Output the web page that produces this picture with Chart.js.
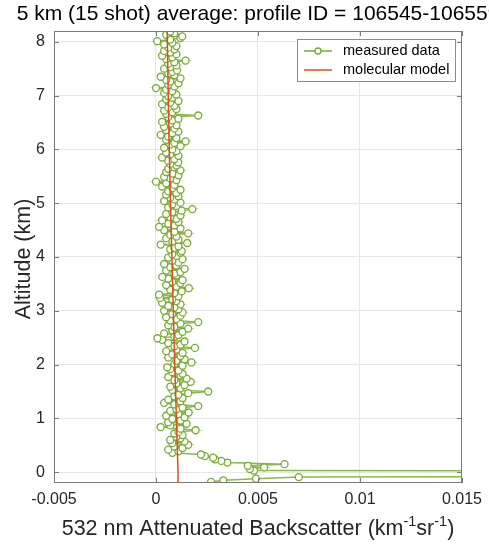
<!DOCTYPE html>
<html lang="en">
<head>
    <meta charset="UTF-8">
    <title>Attenuated Backscatter Profile</title>
    <script src="https://cdn.jsdelivr.net/npm/chart.js"></script>
    <style>
        body { margin: 0; background: #fff; }
    </style>
</head>
<body>
<canvas id="profileChart" width="489" height="545"></canvas>

<script>
    // altitude bins (km), 30 m steps, bottom to top
    const altitudeKm = [
        -0.18, -0.15, -0.12, -0.09, -0.06, -0.03, 0.00, 0.03, 0.06, 0.09,
        0.12, 0.15, 0.18, 0.21, 0.24, 0.27, 0.30, 0.33, 0.36,
        0.39, 0.42, 0.45, 0.48, 0.51, 0.54, 0.57, 0.60, 0.63, 0.66,
        0.69, 0.72, 0.75, 0.78, 0.81, 0.84, 0.87, 0.90, 0.93, 0.96,
        0.99, 1.02, 1.05, 1.08, 1.11, 1.14, 1.17, 1.20, 1.23, 1.26,
        1.29, 1.32, 1.35, 1.38, 1.41, 1.44, 1.47, 1.50, 1.53, 1.56,
        1.59, 1.62, 1.65, 1.68, 1.71, 1.74, 1.77, 1.80, 1.83, 1.86,
        1.89, 1.92, 1.95, 1.98, 2.01, 2.04, 2.07, 2.10, 2.13, 2.16,
        2.19, 2.22, 2.25, 2.28, 2.31, 2.34, 2.37, 2.40, 2.43, 2.46,
        2.49, 2.52, 2.55, 2.58, 2.61, 2.64, 2.67, 2.70, 2.73, 2.76,
        2.79, 2.82, 2.85, 2.88, 2.91, 2.94, 2.97, 3.00, 3.03, 3.06,
        3.09, 3.12, 3.15, 3.18, 3.21, 3.24, 3.27, 3.30, 3.33, 3.36,
        3.39, 3.42, 3.45, 3.48, 3.51, 3.54, 3.57, 3.60, 3.63, 3.66,
        3.69, 3.72, 3.75, 3.78, 3.81, 3.84, 3.87, 3.90, 3.93, 3.96,
        3.99, 4.02, 4.05, 4.08, 4.11, 4.14, 4.17, 4.20, 4.23, 4.26,
        4.29, 4.32, 4.35, 4.38, 4.41, 4.44, 4.47, 4.50, 4.53, 4.56,
        4.59, 4.62, 4.65, 4.68, 4.71, 4.74, 4.77, 4.80, 4.83, 4.86,
        4.89, 4.92, 4.95, 4.98, 5.01, 5.04, 5.07, 5.10, 5.13, 5.16,
        5.19, 5.22, 5.25, 5.28, 5.31, 5.34, 5.37, 5.40, 5.43, 5.46,
        5.49, 5.52, 5.55, 5.58, 5.61, 5.64, 5.67, 5.70, 5.73, 5.76,
        5.79, 5.82, 5.85, 5.88, 5.91, 5.94, 5.97, 6.00, 6.03, 6.06,
        6.09, 6.12, 6.15, 6.18, 6.21, 6.24, 6.27, 6.30, 6.33, 6.36,
        6.39, 6.42, 6.45, 6.48, 6.51, 6.54, 6.57, 6.60, 6.63, 6.66,
        6.69, 6.72, 6.75, 6.78, 6.81, 6.84, 6.87, 6.90, 6.93, 6.96,
        6.99, 7.02, 7.05, 7.08, 7.11, 7.14, 7.17, 7.20, 7.23, 7.26,
        7.29, 7.32, 7.35, 7.38, 7.41, 7.44, 7.47, 7.50, 7.53, 7.56,
        7.59, 7.62, 7.65, 7.68, 7.71, 7.74, 7.77, 7.80, 7.83, 7.86,
        7.89, 7.92, 7.95, 7.98, 8.01, 8.04, 8.07, 8.10, 8.13, 8.16,
        8.19
    ];

    // measured attenuated backscatter, in 1e-3 km^-1 sr^-1 (same order as altitudeKm)
    const measuredE3 = [
        2.7, 3.3, 4.9, 7.0, 60, 95, 80, 4.8, 4.6, 5.3,
        4.5, 6.3, 3.5, 3.2, 2.9, 2.8, 2.4, 2.2, 0.8,
        1.1, 0.6, 1.3, 0.9, 1.58, 0.8, 1.4, 0.7, 1.2, 1.0,
        1.3, 0.9, 1.1, 1.94, 1.2, 0.23, 0.7, 1.5, 0.6, 1.2,
        0.8, 1.4, 0.5, 1.1, 1.6, 0.7, 1.0, 1.3, 2.07, 0.9,
        0.4, 1.2, 0.6, 1.3, 0.9, 1.1, 1.58, 2.56, 0.8, 1.2,
        0.7, 1.4, 1.0, 1.7, 0.9, 1.5, 0.6, 1.2, 1.3, 0.8,
        1.1, 0.7, 0.55, 1.3, 0.9, 1.74, 1.0, 1.4, 0.6, 1.2,
        0.8, 1.3, 0.5, 1.0, 1.91, 0.9, 1.2, 0.6, 1.4, 0.3,
        0.07, 0.9, 1.1, 0.4, 1.3, 0.8, 1.58, 0.9, 0.6, 1.2,
        2.07, 0.7, 1.0, 0.5, 1.2, 0.8, 1.3, 0.4, 1.1, 0.9,
        0.6, 1.2, 0.3, 1.0, 0.8, 0.2, 1.1, 0.15, 0.9, 1.26,
        0.7, 1.61, 1.0, 0.5, 1.2, 0.8, 1.3, 0.6, 0.31, 1.0,
        0.9, 1.2, 0.5, 1.4, 0.7, 1.0, 0.4, 1.1, 0.8, 1.3,
        0.6, 1.0, 0.8, 1.2, 1.26, 0.7, 0.9, 1.1, 0.23, 1.53,
        0.8, 1.1, 0.5, 1.0, 0.7, 1.58, 0.9, 0.4, 1.2, 0.15,
        0.9, 0.6, 1.1, 0.3, 1.0, 0.7, 1.2, 0.5, 0.8, 1.26,
        1.78, 0.6, 1.0, 0.8, 1.2, 0.4, 0.9, 0.7, 1.1, 0.5,
        1.0, 0.6, 1.2, 0.8, 0.3, 0.9, 0.5, 0.0, 1.0, 0.7,
        0.4, 1.1, 0.8, 0.5, 1.2, 0.6, 0.9, 1.0, 0.7, 1.09,
        0.6, 0.9, 0.3, 1.1, 0.7, 0.5, 1.0, 0.8, 0.4, 1.2,
        0.7, 0.9, 1.45, 0.5, 1.0, 0.6, 0.23, 0.8, 1.1, 0.5,
        0.9, 0.4, 1.0, 0.7, 0.3, 0.8, 1.1, 0.6, 2.07, 0.5,
        0.8, 0.4, 1.0, 0.6, 0.9, 0.3, 0.7, 1.1, 0.5, 0.8,
        0.6, 1.0, 0.4, 0.8, 0.5, 0.0, 0.9, 0.6, 1.1, 0.7,
        0.5, 1.2, 0.23, 0.9, 0.6, 0.8, 1.03, 0.4, 0.7, 1.0,
        0.6, 0.9, 1.45, 0.5, 0.8, 0.3, 1.0, 0.7, 0.4, 0.9,
        0.6, 1.0, 0.4, 0.8, 0.06, 0.7, 1.2, 1.29, 0.5, 0.9,
        0.7
    ];

    // molecular model, 1e-3 km^-1 sr^-1
    const modelAltKm = [-0.2, 0, 1, 2, 3, 4, 5, 6, 7, 8.2];
    const modelE3 = [1.09, 1.08, 1.0, 0.92, 0.85, 0.78, 0.71, 0.65, 0.6, 0.55];

    const xTicks = [-0.005, 0, 0.005, 0.01, 0.015];
    const titleText = '5 km (15 shot) average: profile ID = 106545-106559';

    const green = '#77ac30';
    const orange = '#d95319';
    const textColor = '#262626';
    const fontFamily = 'Arial, "Liberation Sans", sans-serif';

    const measuredPoints = altitudeKm.map((a, i) => ({ x: measuredE3[i] / 1000, y: a }));
    const modelPoints = modelAltKm.map((a, i) => ({ x: modelE3[i] / 1000, y: a }));

    // box, inner ticks, title, axis titles and legend, drawn MATLAB-style
    const decorations = {
        id: 'decorations',
        afterDraw(chart) {
            const ctx = chart.ctx;
            const a = chart.chartArea;
            const xs = chart.scales.x, ys = chart.scales.y;
            ctx.save();

            // axes box + inner ticks
            ctx.strokeStyle = '#7a7a7a';
            ctx.lineWidth = 1;
            ctx.strokeRect(a.left + 0.5, a.top + 0.5, a.right - a.left - 1, a.bottom - a.top - 1);
            ctx.beginPath();
            xs.ticks.forEach(t => {
                const px = Math.round(xs.getPixelForValue(t.value)) + 0.5;
                ctx.moveTo(px, a.bottom); ctx.lineTo(px, a.bottom - 5);
                ctx.moveTo(px, a.top); ctx.lineTo(px, a.top + 5);
            });
            ys.ticks.forEach(t => {
                const py = Math.round(ys.getPixelForValue(t.value)) + 0.5;
                ctx.moveTo(a.left, py); ctx.lineTo(a.left + 5, py);
                ctx.moveTo(a.right, py); ctx.lineTo(a.right - 5, py);
            });
            ctx.stroke();

            // title
            ctx.fillStyle = '#000';
            ctx.textAlign = 'center';
            ctx.textBaseline = 'middle';
            ctx.font = '21px ' + fontFamily;
            ctx.fillText(titleText, (a.left + a.right) / 2, 14);

            // y axis title
            ctx.fillStyle = textColor;
            ctx.save();
            ctx.translate(24, (a.top + a.bottom) / 2 + 2);
            ctx.rotate(-Math.PI / 2);
            ctx.font = '21.5px ' + fontFamily;
            ctx.fillText('Altitude (km)', 0, 0);
            ctx.restore();

            // x axis title with superscripts
            const parts = [
                ['532 nm Attenuated Backscatter (km', false],
                ['-1', true],
                ['sr', false],
                ['-1', true],
                [')', false]
            ];
            const big = '21.5px ' + fontFamily, small = '14.5px ' + fontFamily;
            let total = 0;
            parts.forEach(p => { ctx.font = p[1] ? small : big; total += ctx.measureText(p[0]).width; });
            let x = (a.left + a.right) / 2 - total / 2;
            const yBase = 535;
            ctx.textAlign = 'left';
            ctx.textBaseline = 'alphabetic';
            parts.forEach(p => {
                ctx.font = p[1] ? small : big;
                ctx.fillText(p[0], x, p[1] ? yBase - 9 : yBase);
                x += ctx.measureText(p[0]).width;
            });

            // legend
            const lx = 297, ly = 39, lw = 158, lh = 42;
            ctx.fillStyle = '#fff';
            ctx.fillRect(lx, ly, lw, lh);
            ctx.strokeStyle = '#8c8c8c';
            ctx.strokeRect(lx + 0.5, ly + 0.5, lw, lh);
            ctx.font = '14.5px ' + fontFamily;
            ctx.textBaseline = 'middle';
            ctx.fillStyle = '#000';

            ctx.lineWidth = 1.5;
            ctx.strokeStyle = green;
            ctx.beginPath(); ctx.moveTo(304, 51); ctx.lineTo(332, 51); ctx.stroke();
            ctx.beginPath(); ctx.arc(318, 51, 3, 0, Math.PI * 2);
            ctx.fillStyle = '#fff'; ctx.fill(); ctx.lineWidth = 1.3; ctx.stroke();
            ctx.fillStyle = '#000';
            ctx.fillText('measured data', 343, 51);

            ctx.lineWidth = 1.5;
            ctx.strokeStyle = orange;
            ctx.beginPath(); ctx.moveTo(304, 70); ctx.lineTo(332, 70); ctx.stroke();
            ctx.fillText('molecular model', 343, 70);

            ctx.restore();
        }
    };

    const ctx = document.getElementById('profileChart').getContext('2d');
    new Chart(ctx, {
        type: 'scatter',
        data: {
            datasets: [
                {
                    label: 'measured data',
                    data: measuredPoints,
                    showLine: true,
                    borderColor: 'rgba(119,172,48,0.85)',
                    borderWidth: 1.5,
                    pointRadius: 3.5,
                    pointBorderWidth: 1.3,
                    pointBorderColor: green,
                    pointBackgroundColor: '#fff',
                    order: 1
                },
                {
                    label: 'molecular model',
                    data: modelPoints,
                    showLine: true,
                    borderColor: orange,
                    borderWidth: 1.5,
                    pointRadius: 0,
                    order: 0
                }
            ]
        },
        options: {
            responsive: false,
            animation: false,
            layout: { padding: { top: 31, right: 26, left: 0, bottom: 0 } },
            plugins: {
                legend: { display: false },
                tooltip: { enabled: false }
            },
            scales: {
                x: {
                    type: 'linear',
                    min: -0.005,
                    max: 0.015,
                    afterBuildTicks: s => { s.ticks = xTicks.map(v => ({ value: v })); },
                    ticks: {
                        callback: v => String(Math.round(v * 1000) / 1000),
                        color: textColor,
                        font: { family: fontFamily, size: 16 },
                        padding: 7,
                        maxRotation: 0
                    },
                    grid: { color: '#e6e6e6', drawTicks: false },
                    border: { display: false },
                    afterFit: s => { s.height = 62; }
                },
                y: {
                    type: 'linear',
                    min: -0.2,
                    max: 8.2,
                    ticks: {
                        stepSize: 1,
                        includeBounds: false,
                        color: textColor,
                        font: { family: fontFamily, size: 16 },
                        padding: 9
                    },
                    grid: { color: '#e6e6e6', drawTicks: false },
                    border: { display: false },
                    afterFit: s => { s.width = 54; }
                }
            }
        },
        plugins: [decorations]
    });
</script>
</body>
</html>
